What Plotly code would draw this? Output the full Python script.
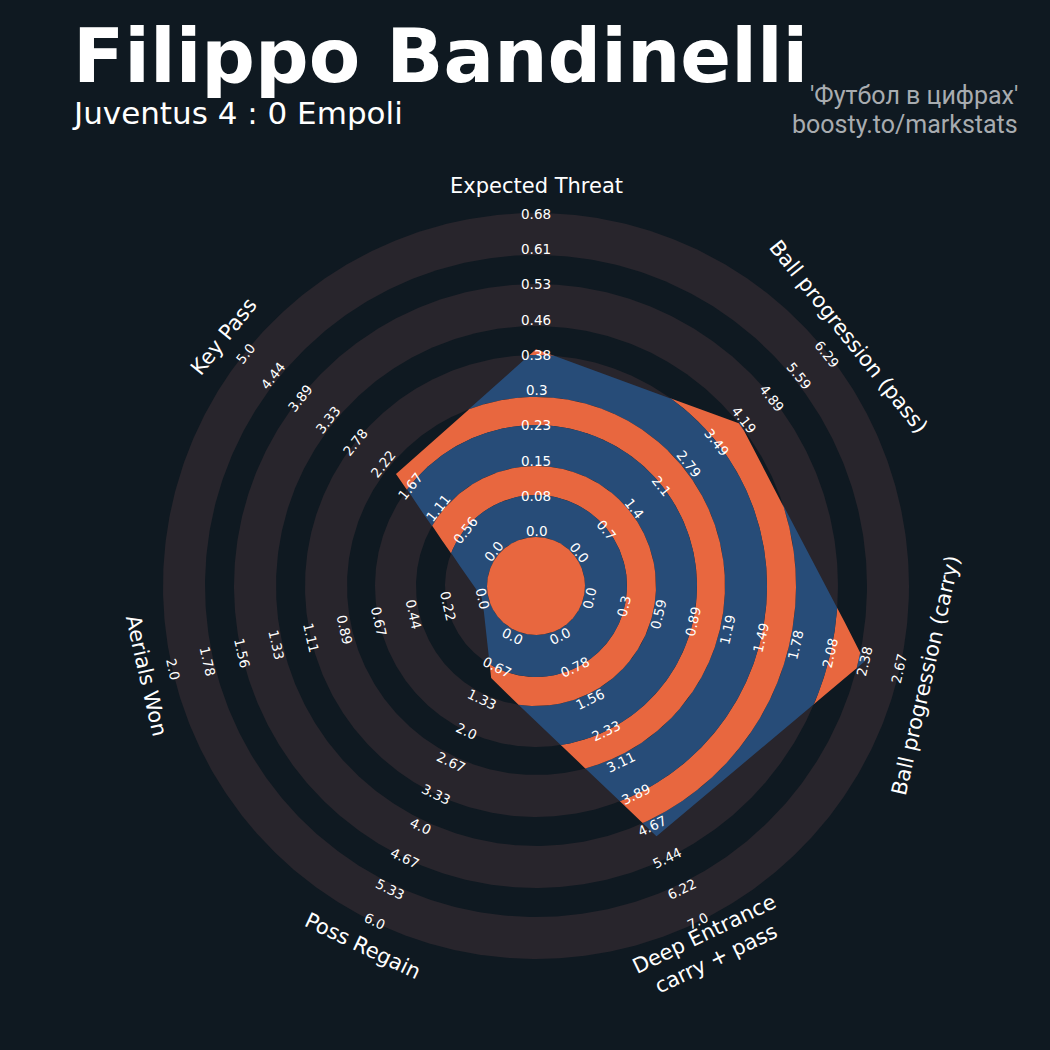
import numpy as np
import plotly.graph_objects as go

# ---------------- data ----------------
params = ["Expected Threat", "Ball progression (pass)", "Ball progression (carry)",
          "Deep Entrance<br>carry + pass", "Poss Regain", "Aerials Won", "Key Pass"]
low = [0.0, 0.0, 0.0, 0.0, 0.0, 0.0, 0.0]
high = [0.68, 6.29, 2.67, 7.0, 6.0, 2.0, 5.0]
values = [0.39, 4.09, 2.38, 4.92, 0.91, 0.0, 1.96]
range_labels = [
    ["0.0", "0.08", "0.15", "0.23", "0.3", "0.38", "0.46", "0.53", "0.61", "0.68"],
    ["0.0", "0.7", "1.4", "2.1", "2.79", "3.49", "4.19", "4.89", "5.59", "6.29"],
    ["0.0", "0.3", "0.59", "0.89", "1.19", "1.49", "1.78", "2.08", "2.38", "2.67"],
    ["0.0", "0.78", "1.56", "2.33", "3.11", "3.89", "4.67", "5.44", "6.22", "7.0"],
    ["0.0", "0.67", "1.33", "2.0", "2.67", "3.33", "4.0", "4.67", "5.33", "6.0"],
    ["0.0", "0.22", "0.44", "0.67", "0.89", "1.11", "1.33", "1.56", "1.78", "2.0"],
    ["0.0", "0.56", "1.11", "1.67", "2.22", "2.78", "3.33", "3.89", "4.44", "5.0"],
]
title = "Filippo Bandinelli"
subtitle = "Juventus 4 : 0 Empoli"
credit = ["'Футбол в цифрах'", "boosty.to/markstats"]

# ---------------- style ----------------
BG = "#0F1921"
RING = "#28252C"
BLUE = "#274C78"
ORANGE = "#E8673F"
R_LOW, R_HIGH = 55.0, 372.0          # radius (px units) of low / high value
R_PARAM = 400.0
# ring boundaries (outer -> inner) with (inside-polygon colour, outside colour)
boundaries = [373, 331, 302, 260, 231, 189, 161, 120, 91, 49]
in_cols = [BLUE, ORANGE] * 5
out_cols = [RING, BG] * 5

n = len(params)
step = 2 * np.pi / n
phis_v = np.arange(n) * step                       # clockwise from top
thetas_v = np.pi / 2 - phis_v
radii_v = [R_LOW + (v - lo) / (hi - lo) * (R_HIGH - R_LOW) for v, lo, hi in zip(values, low, high)]
vx = np.array(radii_v) * np.cos(thetas_v)
vy = np.array(radii_v) * np.sin(thetas_v)

phi = np.unique(np.concatenate([np.linspace(0, 2 * np.pi, 2881), phis_v, [2 * np.pi]]))
theta = np.pi / 2 - phi
idx = np.floor(phi / step + 1e-9).astype(int) % n
px_, py_ = vx[idx], vy[idx]
ex, ey = vx[(idx + 1) % n] - px_, vy[(idx + 1) % n] - py_
dx, dy = np.cos(theta), np.sin(theta)
rho = (px_ * ey - py_ * ex) / (dx * ey - dy * ex)

fig = go.Figure()
circ = np.linspace(0, 2 * np.pi, 721)
for b, ci, co in zip(boundaries, in_cols, out_cols):
    fig.add_trace(go.Scatter(x=b * np.cos(circ), y=b * np.sin(circ), mode="lines",
                             fill="toself", fillcolor=co, line=dict(width=0, color=co),
                             hoverinfo="skip", showlegend=False))
    r = np.minimum(b, rho)
    fig.add_trace(go.Scatter(x=r * np.cos(theta), y=r * np.sin(theta), mode="lines",
                             fill="toself", fillcolor=ci, line=dict(width=0, color=ci),
                             hoverinfo="skip", showlegend=False))

ann = []
for i in range(n):
    th = thetas_v[i]
    ang = 90 - np.degrees(th)
    ang = (ang + 180) % 360 - 180
    if ang > 90:
        ang -= 180
    elif ang <= -90:
        ang += 180
    for k, lab in enumerate(range_labels[i]):
        r = R_LOW + k * (R_HIGH - R_LOW) / (len(range_labels[i]) - 1)
        ann.append(dict(x=r * np.cos(th), y=r * np.sin(th), text=lab, showarrow=False,
                        textangle=ang, xanchor="center", yanchor="middle",
                        font=dict(family="DejaVu Sans", size=13.5, color="#FFFFFF")))
    ann.append(dict(x=R_PARAM * np.cos(th), y=R_PARAM * np.sin(th), text=params[i],
                    showarrow=False, textangle=ang, xanchor="center", yanchor="middle",
                    font=dict(family="DejaVu Sans", size=21, color="#FFFFFF")))

W = 1050.0
ann.append(dict(xref="paper", yref="paper", x=71 / W, y=1 - 56 / W, text="<b>" + title + "</b>",
                showarrow=False, xanchor="left", yanchor="middle",
                font=dict(family="DejaVu Sans", size=75, color="#FFFFFF")))
ann.append(dict(xref="paper", yref="paper", x=70 / W, y=1 - 113 / W, text=subtitle,
                showarrow=False, xanchor="left", yanchor="middle",
                font=dict(family="DejaVu Sans", size=31, color="#FFFFFF")))
ann.append(dict(xref="paper", yref="paper", x=1020 / W, y=1 - 96 / W, text=credit[0],
                showarrow=False, xanchor="right", yanchor="middle",
                font=dict(family="Roboto", size=25, color="#A8ACB0")))
ann.append(dict(xref="paper", yref="paper", x=1020 / W, y=1 - 124 / W, text=credit[1],
                showarrow=False, xanchor="right", yanchor="middle",
                font=dict(family="Roboto", size=25, color="#A8ACB0")))

CX, CY = 536, 586
fig.update_layout(
    width=1050, height=1050, margin=dict(l=0, r=0, t=0, b=0),
    paper_bgcolor=BG, plot_bgcolor=BG, showlegend=False,
    xaxis=dict(range=[-CX, W - CX], visible=False, fixedrange=True),
    yaxis=dict(range=[-(W - CY), CY], visible=False, fixedrange=True),
    annotations=ann,
)
fig.write_html("out.html", config={"displayModeBar": False},
               post_script="document.body.style.margin='0';document.body.style.overflow='hidden';"
                           "document.body.style.background='" + BG + "';")
